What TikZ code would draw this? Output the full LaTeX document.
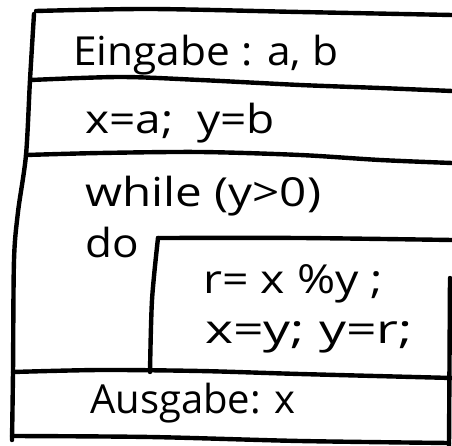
\documentclass[tikz,border=0pt]{standalone}
\usepackage{fontspec}
\setmainfont{Open Sans}
\begin{document}
\begin{tikzpicture}[x=1pt,y=-1pt,
  hand/.style={line width=4.4pt,line cap=round,line join=round},
  txt/.style={anchor=base west,inner sep=0pt,font=\fontsize{40}{44}\selectfont}]
\useasboundingbox (0,0) rectangle (452,446);
% outer left edge
\draw[hand] plot[smooth,tension=0.5] coordinates {(34,14) (30,80) (26,155) (18,212) (14,260) (13,372) (12,440)};
% top
\draw[hand] plot[smooth,tension=0.5] coordinates {(36,11) (150,9) (300,12) (452,15)};
% separators
\draw[hand] plot[smooth,tension=0.5] coordinates {(31,80) (120,77) (200,80) (300,85) (380,88) (452,91)};
\draw[hand] plot[smooth,tension=0.5] coordinates {(26,155) (100,153) (200,152) (300,155) (380,160) (452,163)};
% inner loop body
\draw[hand] plot[smooth,tension=0.5] coordinates {(158,238) (300,238) (452,240)};
\draw[hand] plot[smooth,tension=0.5] coordinates {(158,238) (152,300) (150,372)};
\draw[hand] plot[smooth,tension=0.5] coordinates {(13,372) (100,370) (200,371) (300,374) (452,378)};
% bottom
\draw[hand] plot[smooth,tension=0.5] coordinates {(12,436) (150,437) (300,441) (449,443)};
% right edge
\draw[hand] (450,278) -- (449,446);
% texts
\node[txt] (in) at (73,66) {\scalebox{1.06}[1]{Eingabe : a, b}};
\node[txt] (init) at (85,134) {\scalebox{1.15}[1]{x=a;\ \ y=b}};
\node[txt] (wh) at (85,207) {\scalebox{1.19}[1]{while (y>0)}};
\node[txt] (do) at (85,258) {\scalebox{1.1}[1]{do}};
\node[txt] (b1) at (203,293) {\scalebox{1.16}[1]{r= x \%y ;}};
\node[txt] (b2) at (205,343) {\scalebox{1.34}[1]{x=y; y=r;}};
\node[txt] (out) at (90,413) {Ausgabe: x};
\end{tikzpicture}
\end{document}
